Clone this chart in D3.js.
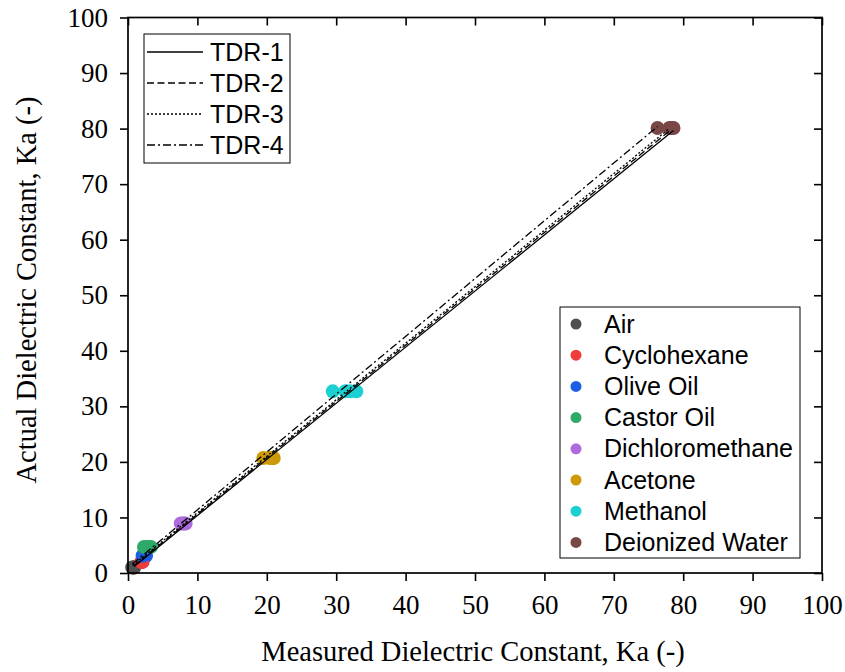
<!DOCTYPE html>
<html>
<head>
<meta charset="utf-8">
<script src="https://cdn.jsdelivr.net/npm/d3@7/dist/d3.min.js"></script>
<style>
  html, body { margin: 0; padding: 0; background: #fff; }
  svg { display: block; }
</style>
</head>
<body>
<svg id="chart" width="845" height="672"></svg>
<script>
// Liquids with their reference (actual) dielectric constants
const materials = ["Air", "Cyclohexane", "Olive Oil", "Castor Oil", "Dichloromethane", "Acetone", "Methanol", "Deionized Water"];
const actualKa = [1.0, 2.0, 3.1, 4.7, 8.9, 20.7, 32.7, 80.1];
const materialColors = ["#505050", "#f03c3c", "#1d5fe3", "#2eaa68", "#ad6bdc", "#cc990a", "#1ccfd2", "#7a4747"];

// Measured Ka from each probe, one value per material
const probes = ["TDR-1", "TDR-2", "TDR-3", "TDR-4"];
const measuredTDR1 = [0.9, 2.1, 2.6, 3.3, 8.3, 21.0, 32.9, 78.6];
const measuredTDR2 = [0.8, 2.0, 2.5, 3.0, 8.1, 20.8, 32.0, 78.3];
const measuredTDR3 = [0.7, 2.0, 2.3, 2.7, 7.9, 20.4, 31.3, 78.0];
const measuredTDR4 = [0.6, 1.9, 2.1, 2.3, 7.6, 19.5, 29.5, 76.3];
const measured = [measuredTDR1, measuredTDR2, measuredTDR3, measuredTDR4];
const probeDash = [null, "7,3.5", "2,2", "8,3,2,3"];

const xTicks = [0, 10, 20, 30, 40, 50, 60, 70, 80, 90, 100];
const yTicks = [0, 10, 20, 30, 40, 50, 60, 70, 80, 90, 100];

(function draw() {
  const svg = d3.select("#chart");
  const pLeft = 128, pRight = 822, pTop = 17.5, pBottom = 573;

  const x = d3.scaleLinear().domain([0, 100]).range([pLeft, pRight]);
  const y = d3.scaleLinear().domain([0, 100]).range([pBottom, pTop]);

  const serif = "'Liberation Serif', 'Times New Roman', serif";
  const sans = "'Liberation Sans', Arial, sans-serif";

  // Scatter points (drawn first so the fit lines sit on top)
  const pts = svg.append("g");
  measured.forEach((series) => {
    series.forEach((mx, i) => {
      pts.append("circle")
        .attr("cx", x(mx)).attr("cy", y(actualKa[i]))
        .attr("r", 7)
        .attr("fill", materialColors[i]);
    });
  });

  // Least-squares line for each probe, drawn across its measured range
  function fit(xs, ys) {
    const mx = d3.mean(xs), my = d3.mean(ys);
    let sxy = 0, sxx = 0;
    for (let i = 0; i < xs.length; i++) { sxy += (xs[i] - mx) * (ys[i] - my); sxx += (xs[i] - mx) ** 2; }
    const b = sxy / sxx, a = my - b * mx;
    return v => a + b * v;
  }
  const lines = svg.append("g");
  measured.forEach((series, p) => {
    const f = fit(series, actualKa);
    const x0 = d3.min(series), x1 = d3.max(series);
    lines.append("line")
      .attr("x1", x(x0)).attr("y1", y(f(x0)))
      .attr("x2", x(x1)).attr("y2", y(f(x1)))
      .attr("stroke", "#000").attr("stroke-width", 1.3)
      .attr("stroke-dasharray", probeDash[p]);
  });

  // Axes: outward ticks on left/bottom, inward ticks on top/right
  const xAxis = svg.append("g").attr("transform", `translate(0,${pBottom})`)
    .call(d3.axisBottom(x).tickValues(xTicks).tickSize(8).tickPadding(14).tickFormat(d3.format("d")));
  const yAxis = svg.append("g").attr("transform", `translate(${pLeft},0)`)
    .call(d3.axisLeft(y).tickValues(yTicks).tickSize(8).tickPadding(12).tickFormat(d3.format("d")));
  const xTop = svg.append("g").attr("transform", `translate(0,${pTop})`)
    .call(d3.axisBottom(x).tickValues(xTicks).tickSize(8).tickFormat(""));
  const yRight = svg.append("g").attr("transform", `translate(${pRight},0)`)
    .call(d3.axisLeft(y).tickValues(yTicks).tickSize(8).tickFormat(""));

  [xAxis, yAxis, xTop, yRight].forEach(g => {
    g.select(".domain").remove();
    g.selectAll(".tick line").attr("stroke", "#000").attr("stroke-width", 1.6);
    g.selectAll("text").attr("font-family", serif).attr("font-size", 27).attr("fill", "#000");
  });

  // Plot frame
  svg.append("rect")
    .attr("x", pLeft).attr("y", pTop)
    .attr("width", pRight - pLeft).attr("height", pBottom - pTop)
    .attr("fill", "none").attr("stroke", "#000").attr("stroke-width", 1.7);

  // Axis titles
  svg.append("text")
    .attr("x", 473).attr("y", 661)
    .attr("text-anchor", "middle")
    .attr("font-family", serif).attr("font-size", 28.5)
    .text("Measured Dielectric Constant, Ka (-)");
  svg.append("text")
    .attr("transform", "translate(36,290) rotate(-90)")
    .attr("text-anchor", "middle")
    .attr("font-family", serif).attr("font-size", 28.5)
    .text("Actual Dielectric Constant, Ka (-)");

  // Legend for probe lines
  const lg1 = svg.append("g");
  lg1.append("rect").attr("x", 144).attr("y", 34).attr("width", 146).attr("height", 129)
    .attr("fill", "#fff").attr("stroke", "#000").attr("stroke-width", 1);
  probes.forEach((name, i) => {
    const yy = 52 + i * 31;
    lg1.append("line").attr("x1", 147).attr("x2", 203).attr("y1", yy).attr("y2", yy)
      .attr("stroke", "#000").attr("stroke-width", 1.3).attr("stroke-dasharray", probeDash[i]);
    lg1.append("text").attr("x", 210).attr("y", yy + 8.5)
      .attr("font-family", sans).attr("font-size", 25).text(name);
  });

  // Legend for materials
  const lg2 = svg.append("g");
  lg2.append("rect").attr("x", 560).attr("y", 307).attr("width", 240).attr("height", 251)
    .attr("fill", "#fff").attr("stroke", "#000").attr("stroke-width", 1);
  materials.forEach((name, i) => {
    const yy = 324 + i * 31.2;
    lg2.append("circle").attr("cx", 576).attr("cy", yy).attr("r", 5.5).attr("fill", materialColors[i]);
    lg2.append("text").attr("x", 604).attr("y", yy + 8.5)
      .attr("font-family", sans).attr("font-size", 25).text(name);
  });
})();
</script>
</body>
</html>
